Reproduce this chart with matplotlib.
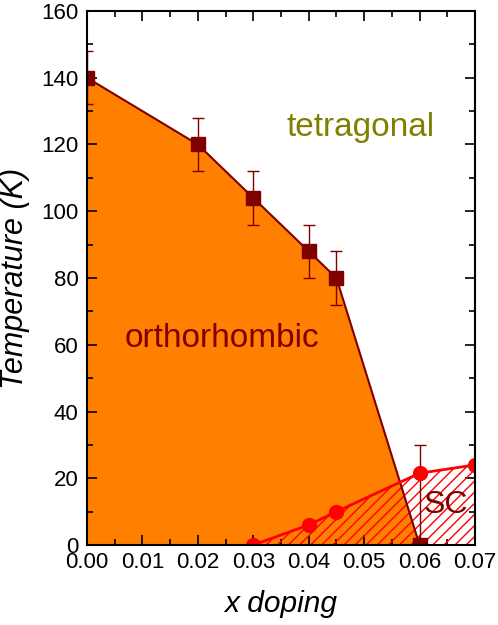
import matplotlib
matplotlib.use('Agg')
import matplotlib.pyplot as plt
from matplotlib.ticker import MultipleLocator

plt.rcParams['font.family'] = ['Liberation Sans', 'DejaVu Sans']
plt.rcParams['hatch.linewidth'] = 1.0

# structural transition (orthorhombic -> tetragonal)
x_s = [0.0, 0.02, 0.03, 0.04, 0.045, 0.06]
t_s = [140, 120, 104, 88, 80, 0]
err_s = [8, 8, 8, 8, 8, 30]

# superconducting Tc
x_sc = [0.03, 0.04, 0.045, 0.06, 0.07]
t_sc = [0, 6, 10, 21.5, 24]

dark = '#800000'

fig = plt.figure(figsize=(4.98, 6.25), dpi=100)
ax = fig.add_axes([0.1747, 0.128, 0.7791, 0.8544])

# orthorhombic region
ax.fill_between(x_s, t_s, 0, color='#ff8000', linewidth=0, zorder=1)
# SC region, hatched
ax.fill_between(x_sc, t_sc, 0, facecolor='none', edgecolor='red',
                linewidth=0, hatch='///', zorder=2)

ax.errorbar(x_s, t_s, yerr=err_s, color=dark, lw=1.5, marker='s', ms=10,
            ecolor=dark, elinewidth=1, capsize=4, capthick=1, zorder=3)
ax.plot(x_sc, t_sc, color='red', lw=2, marker='o', ms=10, zorder=4)

ax.text(0.0244, 62, 'orthorhombic', color=dark, fontsize=24,
        ha='center', va='center', zorder=5)
ax.text(0.0494, 125, 'tetragonal', color='#808000', fontsize=24,
        ha='center', va='center', zorder=5)
ax.text(0.0648, 12, 'SC', color=dark, fontsize=23,
        ha='center', va='center', zorder=5)

ax.set_xlim(0, 0.07)
ax.set_ylim(0, 160)
ax.xaxis.set_major_locator(MultipleLocator(0.01))
ax.xaxis.set_minor_locator(MultipleLocator(0.005))
ax.yaxis.set_major_locator(MultipleLocator(20))
ax.yaxis.set_minor_locator(MultipleLocator(10))
ax.xaxis.set_major_formatter(plt.FormatStrFormatter('%.2f'))
ax.tick_params(which='both', direction='in', top=True, right=True,
               labelsize=16, width=1.2)
ax.tick_params(which='major', length=7)
ax.tick_params(which='minor', length=4)
ax.tick_params(axis='x', pad=5)
ax.tick_params(axis='y', pad=6)
for s in ax.spines.values():
    s.set_linewidth(1.5)
    s.set_zorder(6)

ax.set_xlabel('x doping', fontsize=21.5, style='italic', labelpad=12)
ax.set_ylabel('Temperature (K)', fontsize=22, style='italic', labelpad=8)

fig.savefig('out.png', dpi=100)
